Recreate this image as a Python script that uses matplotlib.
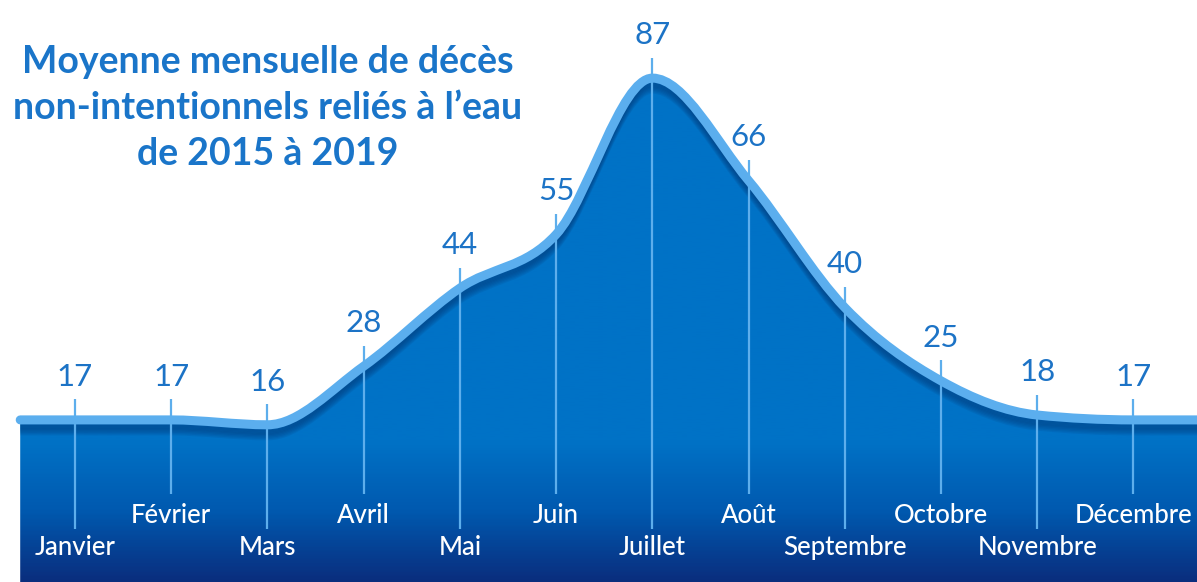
import numpy as np
import matplotlib.pyplot as plt
import matplotlib.transforms as mtransforms
from matplotlib.path import Path
from matplotlib.patches import PathPatch
from matplotlib.colors import LinearSegmentedColormap

months = ['Janvier', 'Février', 'Mars', 'Avril', 'Mai', 'Juin', 'Juillet',
          'Août', 'Septembre', 'Octobre', 'Novembre', 'Décembre']
values = [17, 17, 16, 28, 44, 55, 87, 66, 40, 25, 18, 17]
title = 'Moyenne mensuelle de décès\nnon-intentionnels reliés à l\u2019eau\nde 2015 à 2019'

plt.rcParams['font.family'] = ['Lato', 'DejaVu Sans']

fig = plt.figure(figsize=(11.97, 5.82), dpi=100)
ax = fig.add_axes([0, 0, 1, 1])
x0, x1 = -0.78, 11.66
y0, y1 = -16.2, 103
ax.set_xlim(x0, x1)
ax.set_ylim(y0, y1)
ax.axis('off')

# knots: data plus flat extension to the edges of the band
xs = np.r_[-0.57, np.arange(len(values)), x1 + 0.3]
ys = np.r_[values[0], values, values[-1]].astype(float)

# monotone (Steffen) tangents -> cubic bezier path
h = np.diff(xs)
s = np.diff(ys) / h
m = np.zeros_like(ys)
for i in range(1, len(ys) - 1):
    p = (s[i - 1] * h[i] + s[i] * h[i - 1]) / (h[i - 1] + h[i])
    m[i] = (np.sign(s[i - 1]) + np.sign(s[i])) * min(abs(s[i - 1]), abs(s[i]), 0.5 * abs(p))

verts = [(xs[0], ys[0])]
codes = [Path.MOVETO]
for i in range(len(xs) - 1):
    d = h[i] / 3
    verts += [(xs[i] + d, ys[i] + m[i] * d),
              (xs[i + 1] - d, ys[i + 1] - m[i + 1] * d),
              (xs[i + 1], ys[i + 1])]
    codes += [Path.CURVE4] * 3
curve = Path(verts, codes)

area = Path(verts + [(xs[-1], y0 - 1), (xs[0], y0 - 1), (xs[0], ys[0])],
            codes + [Path.LINETO, Path.LINETO, Path.CLOSEPOLY])
area_patch = PathPatch(area, facecolor='none', edgecolor='none')
ax.add_patch(area_patch)

# gradient fill
cmap = LinearSegmentedColormap.from_list(
    'band', [(0.0, '#0072C6'), (0.76, '#0072C6'), (0.88, '#0059AF'), (1.0, '#0A2E7E')])
grad = np.linspace(0, 1, 400).reshape(-1, 1)
img = ax.imshow(grad, cmap=cmap, aspect='auto', extent=[x0, x1, y0, y1],
                origin='upper', zorder=1)
img.set_clip_path(area_patch)

# soft shadow under the curve line
for k in range(8):
    tr = mtransforms.offset_copy(ax.transData, fig, x=0, y=-(3 + k * 1.3), units='dots')
    sh = PathPatch(curve, facecolor='none', edgecolor='#003F80', lw=5, alpha=0.14,
                   transform=tr, zorder=2)
    ax.add_patch(sh)
    sh.set_clip_path(area_patch)

# vertical guide lines
for i, v in enumerate(values):
    low = -5.3 if i % 2 == 0 else 1.9
    ax.vlines(i, low, v + 4.2, color='#5DAEEC', lw=1.6, zorder=3)

ax.add_patch(PathPatch(curve, facecolor='none', edgecolor='#5BAEEE', lw=6.5,
                       capstyle='round', zorder=4))

# value labels and month labels
for i, (mo, v) in enumerate(zip(months, values)):
    ax.text(i, v + 7.0, str(v), ha='center', va='baseline', fontsize=22.5,
            color='#1C73C6', zorder=5)
    ly = -9.2 if i % 2 == 0 else -2.6
    ax.text(i, ly, mo, ha='center', va='center', fontsize=18.5, color='white',
            fontweight='medium', zorder=5)

fig.text(268 / 1197, 1 - 45 / 582, title, ha='center', va='top', fontsize=27,
         fontweight='bold', color='#1A75C9', linespacing=1.42)

fig.savefig('out.png', dpi=100)
